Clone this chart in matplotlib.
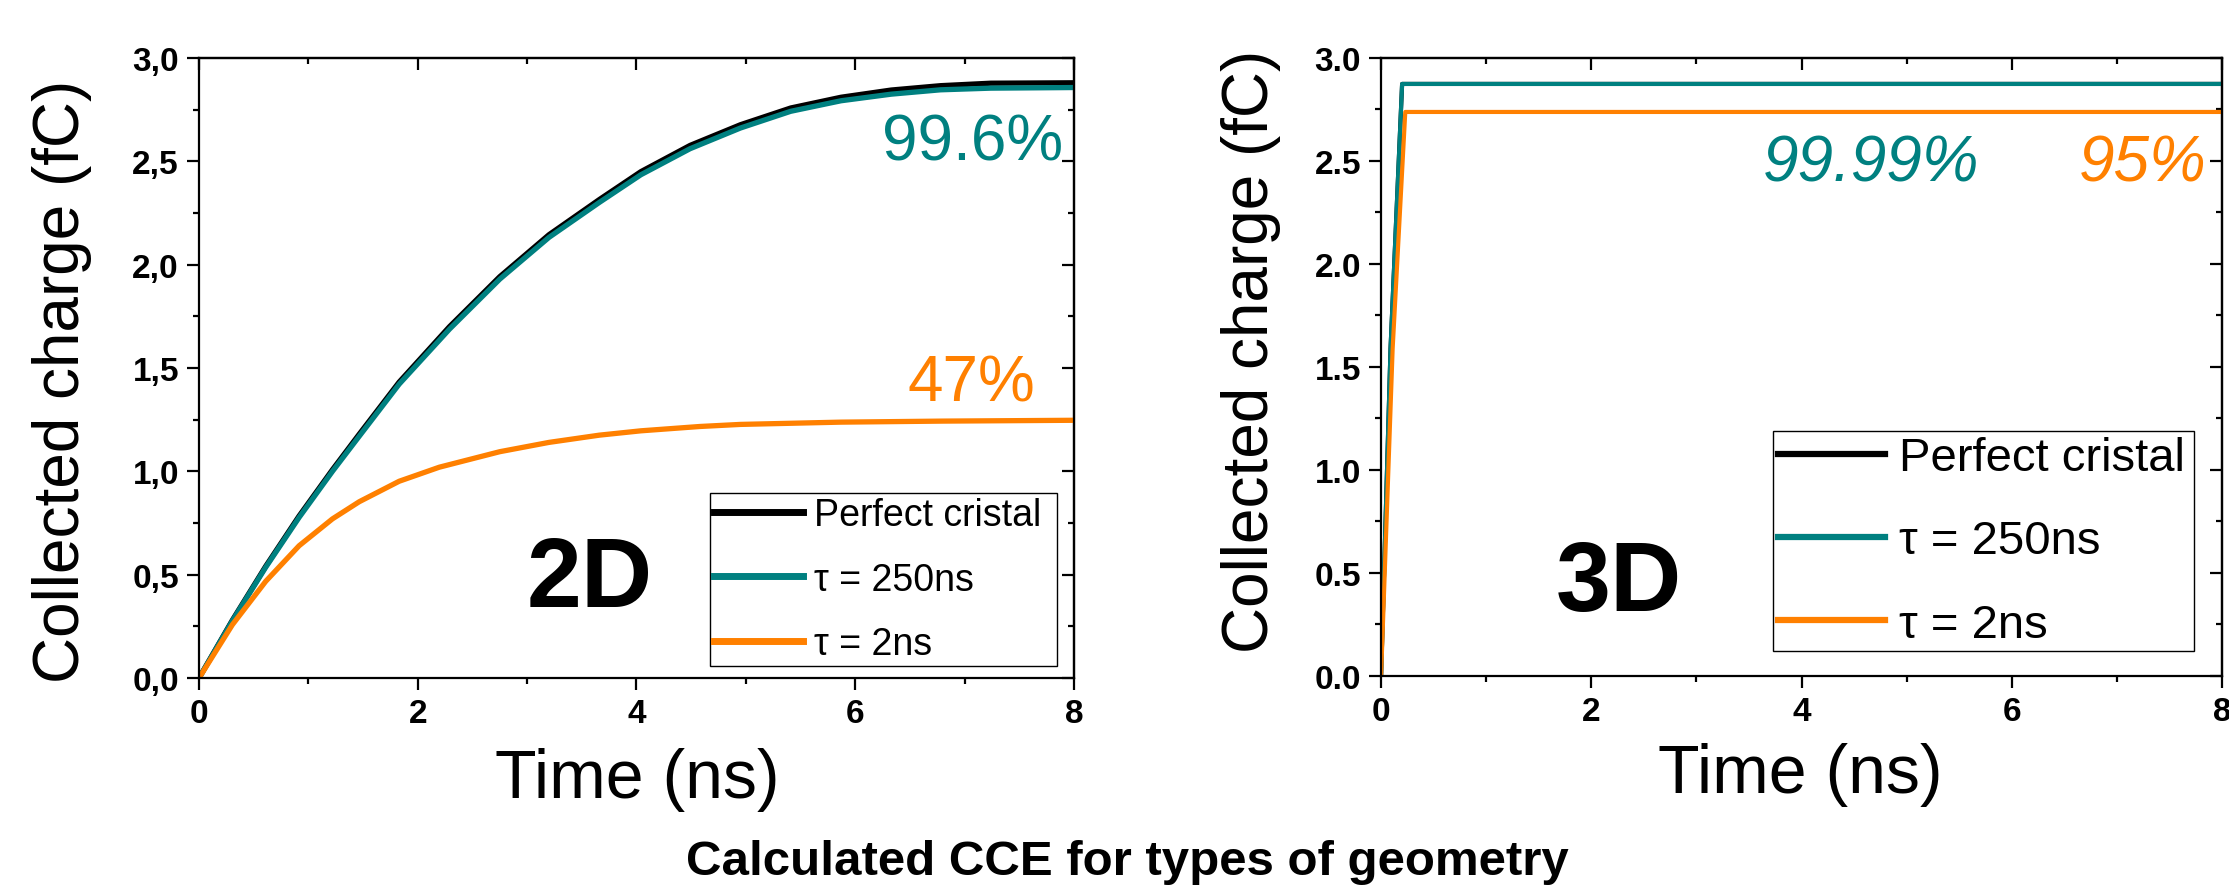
import matplotlib
matplotlib.use("Agg")
import matplotlib.pyplot as plt
from matplotlib.ticker import MultipleLocator, FuncFormatter

# ==============================
# Data
# ==============================
# 2D geometry
t_2d = [0, 0.305, 0.61, 0.915, 1.22, 1.465, 1.83, 2.29, 2.75, 3.2, 3.66, 4.04,
        4.49, 4.95, 5.41, 5.87, 6.33, 6.78, 7.24, 8.0]
perfect_2d = [0, 0.28, 0.541, 0.784, 1.008, 1.18, 1.432, 1.70, 1.942, 2.145,
              2.315, 2.45, 2.577, 2.677, 2.758, 2.81, 2.845, 2.866, 2.878, 2.88]
tau250_2d = [0, 0.277, 0.536, 0.777, 1.0, 1.17, 1.422, 1.688, 1.930, 2.132,
             2.301, 2.435, 2.561, 2.661, 2.742, 2.793, 2.825, 2.846, 2.854, 2.857]
t_2d_short = [0, 0.305, 0.61, 0.915, 1.22, 1.465, 1.83, 2.197, 2.75, 3.2, 3.66,
              4.04, 4.58, 4.95, 5.87, 6.8, 8.0]
tau2_2d = [0, 0.258, 0.468, 0.640, 0.770, 0.853, 0.952, 1.020, 1.095, 1.14,
           1.175, 1.196, 1.217, 1.227, 1.238, 1.243, 1.247]

# 3D geometry
t_3d_long = [0, 0.09, 0.2, 8.0]
perfect_3d = [0, 1.59, 2.874, 2.874]
tau250_3d = [0, 1.59, 2.874, 2.874]
t_3d_short = [0, 0.11, 0.23, 8.0]
tau2_3d = [0, 1.59, 2.738, 2.738]

labels = ["Perfect cristal", "\u03c4 = 250ns", "\u03c4 = 2ns"]
x_ticks = [0, 2, 4, 6, 8]
y_ticks = [0.0, 0.5, 1.0, 1.5, 2.0, 2.5, 3.0]

BLACK = "#000000"
TEAL = "#008080"
ORANGE = "#FF8000"

plt.rcParams["font.family"] = ["Liberation Sans", "DejaVu Sans"]

fig = plt.figure(figsize=(22.29, 8.87), dpi=100)
ax1 = fig.add_axes([0.0893, 0.2345, 0.3925, 0.6990])
ax2 = fig.add_axes([0.6196, 0.2368, 0.3773, 0.6967])


def style_axes(ax, comma):
    ax.set_xlim(0, 8)
    ax.set_ylim(0, 3.0)
    ax.set_xticks(x_ticks)
    ax.set_yticks(y_ticks)
    ax.xaxis.set_minor_locator(MultipleLocator(1))
    ax.yaxis.set_minor_locator(MultipleLocator(0.25))
    if comma:
        ax.yaxis.set_major_formatter(FuncFormatter(lambda v, p: f"{v:.1f}".replace(".", ",")))
    else:
        ax.yaxis.set_major_formatter(FuncFormatter(lambda v, p: f"{v:.1f}"))
    for s in ax.spines.values():
        s.set_linewidth(1.6)
    ax.tick_params(which="major", direction="out", length=8.5, width=1.6, pad=6,
                   labelsize=24)
    ax.tick_params(which="minor", direction="out", length=4.5, width=1.6)
    for lab in ax.get_xticklabels() + ax.get_yticklabels():
        lab.set_fontweight("bold")
    # inward ticks on top and right
    top = ax.secondary_xaxis("top")
    top.set_xticks(x_ticks)
    top.xaxis.set_minor_locator(MultipleLocator(1))
    top.tick_params(which="major", direction="in", length=8.5, width=1.6, labeltop=False)
    top.tick_params(which="minor", direction="in", length=4.5, width=1.6)
    right = ax.secondary_yaxis("right")
    right.set_yticks(y_ticks)
    right.yaxis.set_minor_locator(MultipleLocator(0.25))
    right.tick_params(which="major", direction="in", length=8.5, width=1.6, labelright=False)
    right.tick_params(which="minor", direction="in", length=4.5, width=1.6)
    for s in list(top.spines.values()) + list(right.spines.values()):
        s.set_linewidth(1.6)


# ==============================
# 2D panel
# ==============================
ax1.plot(t_2d, perfect_2d, color=BLACK, lw=3.8, label=labels[0])
ax1.plot(t_2d, tau250_2d, color=TEAL, lw=3.8, label=labels[1])
ax1.plot(t_2d_short, tau2_2d, color=ORANGE, lw=3.8, label=labels[2])
style_axes(ax1, comma=True)

ax1.set_xlabel("Time (ns)", fontsize=49)
ax1.xaxis.set_label_coords(0.501, -0.163)
ax1.xaxis.label.set_va("center")
ax1.set_ylabel("Collected charge (fC)", fontsize=46, va="center")
ax1.yaxis.set_label_coords(-0.157, 0.48)

ax1.text(7.90, 2.59, "99.6%", color=TEAL, fontsize=46, ha="right", va="center")
ax1.text(7.65, 1.425, "47%", color=ORANGE, fontsize=46, ha="right", va="center")
ax1.text(3.57, 0.473, "2D", fontsize=71, fontweight="bold", ha="center", va="center")

leg1 = ax1.legend(loc="lower left", bbox_to_anchor=(0.584, 0.019, 0.397, 0.284),
                  mode="expand", borderaxespad=0, fontsize=27, handlelength=2.35,
                  handletextpad=0.3, labelspacing=0.75, borderpad=0.12,
                  fancybox=False, framealpha=1, edgecolor="black")
leg1.get_frame().set_linewidth(1.0)
for ln in leg1.get_lines():
    ln.set_linewidth(5)

# ==============================
# 3D panel
# ==============================
ax2.plot(t_3d_long, perfect_3d, color=BLACK, lw=3.0, label=labels[0])
ax2.plot(t_3d_long, tau250_3d, color=TEAL, lw=3.0, label=labels[1])
ax2.plot(t_3d_short, tau2_3d, color=ORANGE, lw=3.0, label=labels[2])
style_axes(ax2, comma=False)

ax2.set_xlabel("Time (ns)", fontsize=49)
ax2.xaxis.set_label_coords(0.498, -0.159)
ax2.xaxis.label.set_va("center")
ax2.set_ylabel("Collected charge (fC)", fontsize=46, va="center")
ax2.yaxis.set_label_coords(-0.155, 0.527)

ax2.text(4.66, 2.49, "99.99%", color=TEAL, fontsize=46, style="italic",
         ha="center", va="center")
ax2.text(7.85, 2.49, "95%", color=ORANGE, fontsize=46, style="italic",
         ha="right", va="center")
ax2.text(2.26, 0.446, "3D", fontsize=71, fontweight="bold", ha="center", va="center")

leg2 = ax2.legend(loc="lower left", bbox_to_anchor=(0.466, 0.040, 0.501, 0.366),
                  mode="expand", borderaxespad=0, fontsize=34, handlelength=2.27,
                  handletextpad=0.3, labelspacing=0.83, borderpad=0.1,
                  fancybox=False, framealpha=1, edgecolor="black")
leg2.get_frame().set_linewidth(1.0)
for ln in leg2.get_lines():
    ln.set_linewidth(4.5)

fig.text(0.5056, 0.0135, "Calculated CCE for types of geometry", fontsize=35.5,
         fontweight="bold", ha="center", va="baseline")

fig.savefig("out.png", dpi=100)
